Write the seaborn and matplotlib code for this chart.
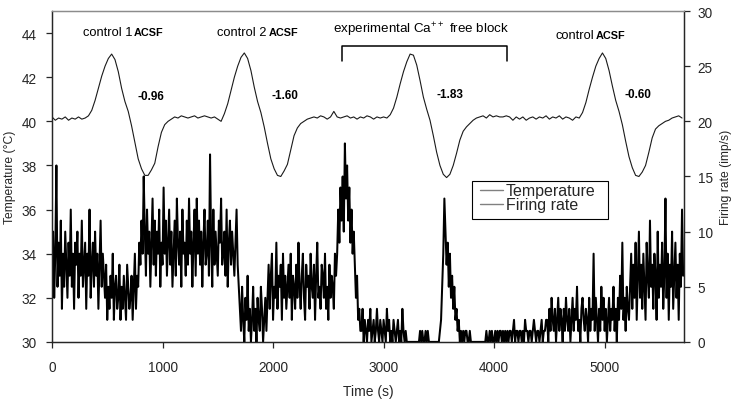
import numpy as np
import pandas as pd
import matplotlib
matplotlib.use("Agg")
import matplotlib.pyplot as plt
from matplotlib.patches import Rectangle
import seaborn as sns

# ---------------- data ----------------
TEMP_STEP = 30   # s between temperature samples
RATE_STEP = 10   # s between firing-rate bins

temperature = [
    40.2, 40.05, 40.15, 40.1, 40.2, 40.05, 40.15, 40.1, 40.2, 40.1,
    40.15, 40.25, 40.5, 40.95, 41.5, 42.05, 42.5, 42.85, 43.05, 42.8,
    42.25, 41.5, 40.9, 40.45, 39.8, 39.05, 38.3, 37.85, 37.55, 37.55,
    37.8, 38.1, 38.85, 39.5, 39.85, 40.0, 40.1,
    40.2, 40.15, 40.25, 40.2, 40.15, 40.2, 40.25, 40.15, 40.2, 40.25,
    40.2, 40.15, 40.2, 40.1, 40.0,
    40.35, 40.8, 41.4, 42.0, 42.5, 42.9, 43.1, 42.85, 42.3, 41.55,
    40.9, 40.4, 39.75, 39.0, 38.3, 37.85, 37.55, 37.5, 37.75, 38.05,
    38.7, 39.35, 39.7, 39.9, 40.0, 40.1, 40.15,
    40.2, 40.15, 40.25, 40.2, 40.1, 40.2, 40.45, 40.2, 40.15, 40.2,
    40.25, 40.15, 40.2, 40.1, 40.2, 40.15, 40.25, 40.2, 40.1, 40.2,
    40.15, 40.2, 40.15,
    40.3, 40.6, 41.1, 41.7, 42.25, 42.7, 43.05, 43.0, 42.55, 41.85,
    41.1, 40.55, 40.05, 39.35, 38.6, 38.0, 37.6, 37.45, 37.6, 38.0,
    38.55, 39.15, 39.55, 39.75, 39.9, 40.05, 40.15, 40.2,
    40.25, 40.15, 40.3, 40.2, 40.25, 40.2, 40.2, 40.25, 40.2, 40.05,
    40.2, 40.1, 40.2, 40.05, 40.15, 40.2, 40.1, 40.2, 40.15, 40.25,
    40.1, 40.2, 40.15, 40.25, 40.1, 40.2, 40.15, 40.05, 40.2, 40.15,
    40.4, 40.85, 41.45, 42.0, 42.5, 42.85, 43.1, 42.85, 42.3, 41.6,
    40.95, 40.45, 39.85, 39.1, 38.4, 37.9, 37.55, 37.5, 37.7, 38.0,
    38.6, 39.25, 39.65, 39.8, 39.9, 40.0, 40.05, 40.15, 40.2, 40.25,
    40.15,
]

rate_control1 = [
    7, 10, 4, 8, 16, 5, 9, 6, 11, 3, 8, 5, 10, 7, 4, 9, 6, 12, 5, 8,
    3, 9, 7, 10, 4, 8, 6, 11, 5, 7, 9, 3, 8, 6, 12, 4, 7, 9, 5, 10,
    6, 8, 3, 7, 11, 5, 8, 6,
    4, 7, 2, 5, 3, 6, 4, 8, 2, 5, 6, 3, 4, 7, 2, 5, 3, 6, 4, 2,
    7, 5, 3, 4, 6, 2, 5, 8, 3, 6,
    5, 9, 7, 11, 8, 15, 10,
    6, 12, 8, 10, 5, 9, 13, 7, 11, 6, 10, 8, 12, 5, 9, 7, 14, 8, 11, 6,
    9, 12, 7, 10, 5, 8, 11, 6, 13, 9, 7, 10, 5, 12, 8, 9, 6, 11, 7, 13,
    8, 10, 5, 9, 12, 6, 13, 8, 11, 7, 10, 5, 9, 12, 7, 8, 11, 6, 17, 9,
    5, 12, 7, 10, 8, 6, 11, 9, 13, 7, 8, 10, 6, 12, 5, 9, 11, 7, 10, 8,
    6, 9, 12, 7, 5,
]
rate_control2 = [
    3, 1, 5, 2, 0, 4, 2, 6, 1, 3, 0, 2, 5, 1, 3, 0, 4, 2, 1, 5,
    3, 0, 2, 4, 1,
    4, 7, 3, 6, 8, 2, 5, 4, 9, 3, 6, 5, 7, 2, 8, 4, 6, 3, 5, 7,
    4, 8, 2, 6, 5, 3, 7, 4, 9, 5, 3, 6, 8, 4, 2, 7, 5, 6, 3, 8,
    5, 4, 7, 2, 6, 9, 4, 5, 3, 7, 6, 4, 8, 3, 5, 2, 7, 4, 6, 5,
    3, 8, 6,
]
rate_ca_free = [
    8, 12, 9, 14, 11, 15, 10, 18, 13, 16, 11, 14, 9, 12, 8, 10,
    7, 4, 6, 2, 3, 1,
    1, 3, 0, 2, 1, 0, 2, 1, 3, 0, 1, 2, 0, 1, 3, 1, 0, 2, 1, 0,
    2, 1, 0, 3, 1, 2, 0, 1, 0, 2, 1, 0, 1, 2, 0, 1, 0, 3, 1, 0,
    1, 0,
    0, 0, 0, 0, 0, 0, 0, 0, 0, 0, 0,
    1, 0, 1, 0, 0, 1, 0, 1, 0, 0, 0, 0,
    0, 0, 0, 0, 0, 0, 1,
    2, 5, 8, 13, 10, 7, 9, 5, 8, 4, 6, 3, 5, 2, 3, 1, 2, 0, 1, 0,
    1, 0, 1, 1, 0, 0, 1, 0,
    0, 0, 0, 0, 0, 0, 0, 0, 0, 0, 0, 0,
]
rate_washout = [
    0, 1, 0, 0, 1, 0, 1, 0, 0, 1, 0, 1, 0, 1, 1, 0, 1, 0, 1, 0,
    1, 0, 1, 1, 0, 1, 2, 0, 1, 1, 0, 1, 1, 0, 1, 0, 2, 1, 1, 0,
    1, 1, 0, 1, 2, 1, 0, 1, 1, 0, 1, 2, 0, 1, 1, 2,
    2, 0, 3, 1, 4, 2, 1, 3, 0, 2, 4, 1, 3, 2, 0, 3, 1, 4, 2, 1,
    3, 0, 2, 4, 1, 3, 2, 5, 1, 2, 0, 3, 4, 2, 1, 3, 2, 0, 4, 1,
    3, 2, 8, 1, 4, 2, 0, 3, 1, 5, 2, 4, 1, 3, 0, 2, 4, 1, 3, 2,
    5, 1, 3, 0, 4, 2, 6, 3, 9, 2, 4, 1, 5, 3, 2,
    5, 8, 3, 7, 4, 9, 2, 6, 10, 4, 7, 3, 8, 5, 2, 9, 6, 4, 11, 5,
    7, 3, 8, 6, 2, 10, 4, 7, 5, 9, 3, 6, 13, 4, 8, 2, 7, 5, 10, 3,
    6, 9, 4, 7, 2, 8, 5, 12, 6,
]

x_ticks = [0, 1000, 2000, 3000, 4000, 5000]
temp_ticks = [30, 32, 34, 36, 38, 40, 42, 44]
rate_ticks = [0, 5, 10, 15, 20, 25, 30]
legend_labels = ["Temperature", "Firing rate"]
slopes = ["-0.96", "-1.60", "-1.83", "-0.60"]

firing_rate = rate_control1 + rate_control2 + rate_ca_free + rate_washout
temp_df = pd.DataFrame({"time": np.arange(len(temperature)) * TEMP_STEP,
                        "temp": temperature})
rate_df = pd.DataFrame({"time": np.arange(len(firing_rate)) * RATE_STEP,
                        "rate": firing_rate})

# ---------------- style ----------------
sns.set_style("ticks")
plt.rcParams["font.family"] = ["Liberation Sans", "DejaVu Sans"]
plt.rcParams["axes.linewidth"] = 0.9

fig = plt.figure(figsize=(7.32, 4.02), dpi=100)
ax = fig.add_axes([0.071, 0.147, 0.863, 0.823])
ax2 = ax.twinx()

sns.lineplot(data=rate_df, x="time", y="rate", ax=ax2, color="black",
             lw=1.45, estimator=None, legend=False)
sns.lineplot(data=temp_df, x="time", y="temp", ax=ax, color="#1a1a1a",
             lw=0.8, estimator=None, legend=False)

ax.set_xlim(0, 5715)
ax.set_ylim(30, 45)
ax2.set_ylim(0, 30)
ax.set_xticks(x_ticks)
ax.set_yticks(temp_ticks)
ax2.set_yticks(rate_ticks)

ax.set_xlabel("Time (s)", fontsize=10, labelpad=7)
ax.set_ylabel("Temperature (°C)", fontsize=8.7, labelpad=4)
ax2.set_ylabel("Firing rate (imp/s)", fontsize=8.7, labelpad=5)

ax.tick_params(axis="x", length=4, width=0.9, pad=9, labelsize=9.8)
ax.tick_params(axis="y", length=4, width=0.9, pad=7, labelsize=9.8)
ax2.tick_params(axis="y", length=4, width=0.9, pad=6, labelsize=9.8)
for a in (ax, ax2):
    a.spines["top"].set_color("#8c8c8c")
ax.grid(False)
ax2.grid(False)

# ---------------- annotations ----------------
ann_kw = dict(va="baseline", color="black")
ax.text(732, 43.9, "control 1", ha="right", fontsize=9.3, **ann_kw)
ax.text(738, 43.9, "ACSF", ha="left", fontsize=7.8, fontweight="bold", **ann_kw)
ax.text(1944, 43.9, "control 2", ha="right", fontsize=9.3, **ann_kw)
ax.text(1960, 43.9, "ACSF", ha="left", fontsize=7.8, fontweight="bold", **ann_kw)
ax.text(4905, 43.77, "control", ha="right", fontsize=9.3, **ann_kw)
ax.text(4923, 43.77, "ACSF", ha="left", fontsize=7.8, fontweight="bold", **ann_kw)
ax.text(3336, 44.03, r"experimental Ca$\mathregular{^{++}}$ free block",
        ha="center", fontsize=9.6, **ann_kw)

bracket_x = (2622, 4114)
bracket_y = (42.73, 43.4)
ax.plot([bracket_x[0], bracket_x[0], bracket_x[1], bracket_x[1]],
        [bracket_y[0], bracket_y[1], bracket_y[1], bracket_y[0]],
        color="black", lw=1.1)

slope_pos = [(778, 41.0), (1989, 41.08), (3481, 41.12), (5181, 41.12)]
for s, (xp, yp) in zip(slopes, slope_pos):
    ax.text(xp, yp, s, ha="left", fontsize=8.5, fontweight="bold", **ann_kw)

# ---------------- legend ----------------
leg_box = Rectangle((0.6646, 0.3716), 0.2151, 0.1148, transform=ax2.transAxes,
                    facecolor="white", edgecolor="black", lw=0.8, zorder=4)
ax2.add_patch(leg_box)
leg = ax2.legend([ax.lines[0], ax2.lines[0]], legend_labels,
                 loc="upper left", bbox_to_anchor=(0.678, 0.479),
                 frameon=False, fontsize=11.5, borderpad=0.0,
                 labelspacing=-0.08, handlelength=1.4, handletextpad=0.2,
                 borderaxespad=0.0)
leg.set_zorder(5)
for h in leg.get_lines():
    h.set_color("#808080")
    h.set_linewidth(1.0)

fig.savefig("out.png", dpi=100)
